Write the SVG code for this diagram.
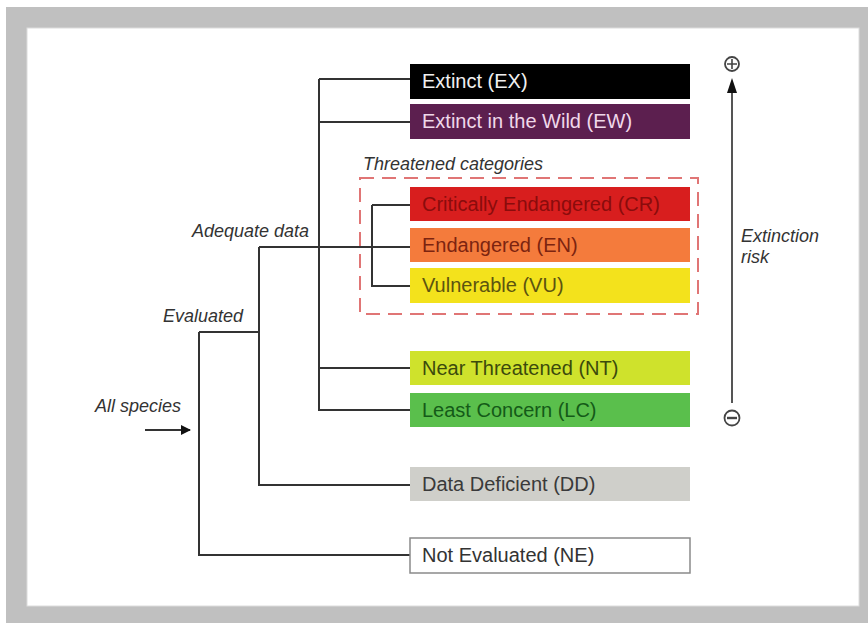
<svg xmlns="http://www.w3.org/2000/svg" width="868" height="623" viewBox="0 0 868 623">
  <defs>
    <marker id="arrow" viewBox="0 0 10 10" refX="9" refY="5" markerWidth="10" markerHeight="10" markerUnits="userSpaceOnUse" orient="auto">
      <path d="M0,0 L10,5 L0,10 Z" fill="#111"/>
    </marker>
  </defs>
  <style>
    .box-text { font-family: "Liberation Sans", Arial, sans-serif; font-size: 20px; }
    .label { font-family: "Liberation Sans", Arial, sans-serif; font-size: 18px; font-style: italic; fill: #333; }
    .conn { fill: none; stroke: #333; stroke-width: 2; }
  </style>
  <rect x="0" y="0" width="868" height="623" fill="#ffffff"/>
  <rect x="6" y="7" width="862" height="616" fill="#c0c0c0"/>
  <rect x="27" y="28" width="832" height="578" fill="#ffffff" stroke="#dcdcdc" stroke-width="1"/>

  <g id="connectors">
    <path class="conn" d="M145,430 H190" marker-end="url(#arrow)"/>
    <path class="conn" d="M199,332 V555 H410 M199,332 H259"/>
    <path class="conn" d="M259,247 V485 H410 M259,247 H410"/>
    <path class="conn" d="M319,79 V410 H410 M319,79 H410 M319,122 H410 M319,368 H410"/>
    <path class="conn" d="M372,205 V286 H410 M372,205 H410"/>
  </g>

  <g id="threatened-group">
    <rect x="360" y="178" width="338" height="136" fill="none" stroke="#e07575" stroke-width="2" stroke-dasharray="14 8"/>
    <text class="label" x="363" y="170">Threatened categories</text>
  </g>

  <g id="EX">
    <rect x="410" y="64" width="280" height="35" fill="#000000"/>
    <text class="box-text" x="422" y="88" fill="#f0f0f0">Extinct (EX)</text>
  </g>
  <g id="EW">
    <rect x="410" y="104" width="280" height="35" fill="#5c1f4f"/>
    <text class="box-text" x="422" y="128" fill="#f0d8ea">Extinct in the Wild (EW)</text>
  </g>
  <g id="CR">
    <rect x="410" y="187" width="280" height="34" fill="#d81e1e"/>
    <text class="box-text" x="422" y="211" fill="#8a0c0c">Critically Endangered (CR)</text>
  </g>
  <g id="EN">
    <rect x="410" y="228" width="280" height="34" fill="#f47b3c"/>
    <text class="box-text" x="422" y="252" fill="#7c2410">Endangered (EN)</text>
  </g>
  <g id="VU">
    <rect x="410" y="268" width="280" height="35" fill="#f3e21c"/>
    <text class="box-text" x="422" y="292" fill="#5c5410">Vulnerable (VU)</text>
  </g>
  <g id="NT">
    <rect x="410" y="351" width="280" height="34" fill="#cfe22c"/>
    <text class="box-text" x="422" y="375" fill="#3c4a0c">Near Threatened (NT)</text>
  </g>
  <g id="LC">
    <rect x="410" y="393" width="280" height="34" fill="#5abf4c"/>
    <text class="box-text" x="422" y="417" fill="#145a18">Least Concern (LC)</text>
  </g>
  <g id="DD">
    <rect x="410" y="467" width="280" height="34" fill="#cfcfca"/>
    <text class="box-text" x="422" y="491" fill="#3a3a3a">Data Deficient (DD)</text>
  </g>
  <g id="NE">
    <rect x="410" y="538" width="280" height="35" fill="#ffffff" stroke="#8a8a8a" stroke-width="1.5"/>
    <text class="box-text" x="422" y="562" fill="#333333">Not Evaluated (NE)</text>
  </g>

  <g id="labels">
    <text class="label" x="95" y="412">All species</text>
    <text class="label" x="163" y="322">Evaluated</text>
    <text class="label" x="192" y="237">Adequate data</text>
  </g>

  <g id="risk-axis">
    <line x1="732" y1="403" x2="732" y2="90" stroke="#555" stroke-width="2"/>
    <path d="M727,93 L732,78 L737,93 Z" fill="#111"/>
    <circle cx="732" cy="64" r="7" fill="none" stroke="#444" stroke-width="1.8"/>
    <path d="M727,64 H737 M732,59 V69" stroke="#444" stroke-width="1.6"/>
    <circle cx="732" cy="418" r="7.5" fill="none" stroke="#444" stroke-width="1.8"/>
    <path d="M727,418 H737" stroke="#444" stroke-width="2.4"/>
    <text class="label" x="741" y="242">Extinction</text>
    <text class="label" x="741" y="263">risk</text>
  </g>
</svg>
